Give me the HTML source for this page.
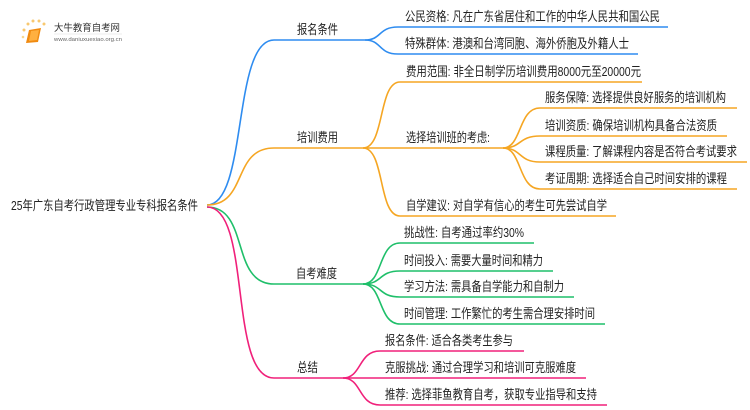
<!DOCTYPE html>
<html><head><meta charset="utf-8"><style>
html,body{margin:0;padding:0;background:#fff;}
svg{display:block;}
text{font-family:"Liberation Sans","Noto Sans CJK SC",sans-serif;font-size:13px;fill:#222;}
</style></head><body>
<svg width="750" height="410" viewBox="0 0 750 410" xmlns="http://www.w3.org/2000/svg">
<g>
<circle cx="24" cy="30" r="1.5" fill="#f8c870"/><circle cx="28" cy="24" r="1.5" fill="#f8c870"/><circle cx="33" cy="21" r="1.5" fill="#f8c870"/><circle cx="39" cy="21" r="1.5" fill="#f8c870"/><circle cx="44" cy="24" r="1.5" fill="#f8c870"/><circle cx="23" cy="37" r="1.3" fill="#f8d890"/>
<path d="M29 30 L41 28 L38 42 L26 43 Z" fill="#f08a10"/>
<path d="M31 31 L39 30 L37 40 L29 41 Z" fill="#ffb040"/>
<text x="54" y="31" style="font-size:9.5px;fill:#333" textLength="66" lengthAdjust="spacingAndGlyphs">大牛教育自考网</text>
<line x1="54" y1="34" x2="122" y2="34" stroke="#ddd" stroke-width="0.5"/>
<text x="54" y="41" style="font-size:5px;fill:#666" textLength="68" lengthAdjust="spacingAndGlyphs">www.daniuxuexiao.org.cn</text>
</g>
<g fill="none" stroke-width="1.6">
<path d="M207,205 C248,205 232,40 274,40 L365,40" stroke="#2e8cf0"/>
<path d="M365,40 C382,40 378,27 398,27 L668,27" stroke="#2e8cf0"/>
<path d="M365,40 C382,40 378,54 398,54 L638,54" stroke="#2e8cf0"/>
<path d="M207,205 C248,205 232,148 274,148 L363,148" stroke="#f5a623"/>
<path d="M363,148 C385,148 378,82 400,82 L642,82" stroke="#f5a623"/>
<path d="M363,148 L503,148" stroke="#f5a623"/>
<path d="M363,148 C385,148 378,216 400,216 L616,216" stroke="#f5a623"/>
<path d="M503,148 C522,148 518,108 540,108 L737,108" stroke="#f5a623"/>
<path d="M503,148 C522,148 518,136 540,136 L727,136" stroke="#f5a623"/>
<path d="M503,148 C522,148 518,162 540,162 L747,162" stroke="#f5a623"/>
<path d="M503,148 C522,148 518,189 540,189 L737,189" stroke="#f5a623"/>
<path d="M207,207 C250,207 230,284 274,284 L363,284" stroke="#1fbf6a"/>
<path d="M363,284 C383,284 378,243 400,243 L534,243" stroke="#1fbf6a"/>
<path d="M363,284 C383,284 378,271 400,271 L553,271" stroke="#1fbf6a"/>
<path d="M363,284 C383,284 378,297 400,297 L574,297" stroke="#1fbf6a"/>
<path d="M363,284 C383,284 378,324 400,324 L605,324" stroke="#1fbf6a"/>
<path d="M207,207 C252,207 228,378 274,378 L343,378" stroke="#f0207a"/>
<path d="M343,378 C362,378 358,351 380,351 L524,351" stroke="#f0207a"/>
<path d="M343,378 L586,378" stroke="#f0207a"/>
<path d="M343,378 C362,378 358,405 380,405 L607,405" stroke="#f0207a"/>
</g>
<text x="11" y="210" textLength="187" lengthAdjust="spacingAndGlyphs">25年广东自考行政管理专业专科报名条件</text>
<text x="297" y="34" textLength="41" lengthAdjust="spacingAndGlyphs">报名条件</text>
<text x="297" y="142" textLength="41" lengthAdjust="spacingAndGlyphs">培训费用</text>
<text x="296" y="278" textLength="41" lengthAdjust="spacingAndGlyphs">自考难度</text>
<text x="297" y="372" textLength="21" lengthAdjust="spacingAndGlyphs">总结</text>

<text x="405" y="21" textLength="255" lengthAdjust="spacingAndGlyphs">公民资格: 凡在广东省居住和工作的中华人民共和国公民</text>
<text x="405" y="48" textLength="224" lengthAdjust="spacingAndGlyphs">特殊群体: 港澳和台湾同胞、海外侨胞及外籍人士</text>
<text x="406" y="76" textLength="235" lengthAdjust="spacingAndGlyphs">费用范围: 非全日制学历培训费用8000元至20000元</text>
<text x="406" y="142" textLength="84" lengthAdjust="spacingAndGlyphs">选择培训班的考虑:</text>
<text x="406" y="210" textLength="201" lengthAdjust="spacingAndGlyphs">自学建议: 对自学有信心的考生可先尝试自学</text>
<text x="545" y="102" textLength="181" lengthAdjust="spacingAndGlyphs">服务保障: 选择提供良好服务的培训机构</text>
<text x="545" y="130" textLength="172" lengthAdjust="spacingAndGlyphs">培训资质: 确保培训机构具备合法资质</text>
<text x="545" y="156" textLength="192" lengthAdjust="spacingAndGlyphs">课程质量: 了解课程内容是否符合考试要求</text>
<text x="545" y="183" textLength="182" lengthAdjust="spacingAndGlyphs">考证周期: 选择适合自己时间安排的课程</text>

<text x="404" y="237" textLength="120" lengthAdjust="spacingAndGlyphs">挑战性: 自考通过率约30%</text>
<text x="404" y="265" textLength="139" lengthAdjust="spacingAndGlyphs">时间投入: 需要大量时间和精力</text>
<text x="404" y="291" textLength="160" lengthAdjust="spacingAndGlyphs">学习方法: 需具备自学能力和自制力</text>
<text x="404" y="318" textLength="191" lengthAdjust="spacingAndGlyphs">时间管理: 工作繁忙的考生需合理安排时间</text>

<text x="385" y="345" textLength="128" lengthAdjust="spacingAndGlyphs">报名条件: 适合各类考生参与</text>
<text x="385" y="372" textLength="191" lengthAdjust="spacingAndGlyphs">克服挑战: 通过合理学习和培训可克服难度</text>
<text x="385" y="399" textLength="212" lengthAdjust="spacingAndGlyphs">推荐: 选择菲鱼教育自考，获取专业指导和支持</text>
</svg>
</body></html>
